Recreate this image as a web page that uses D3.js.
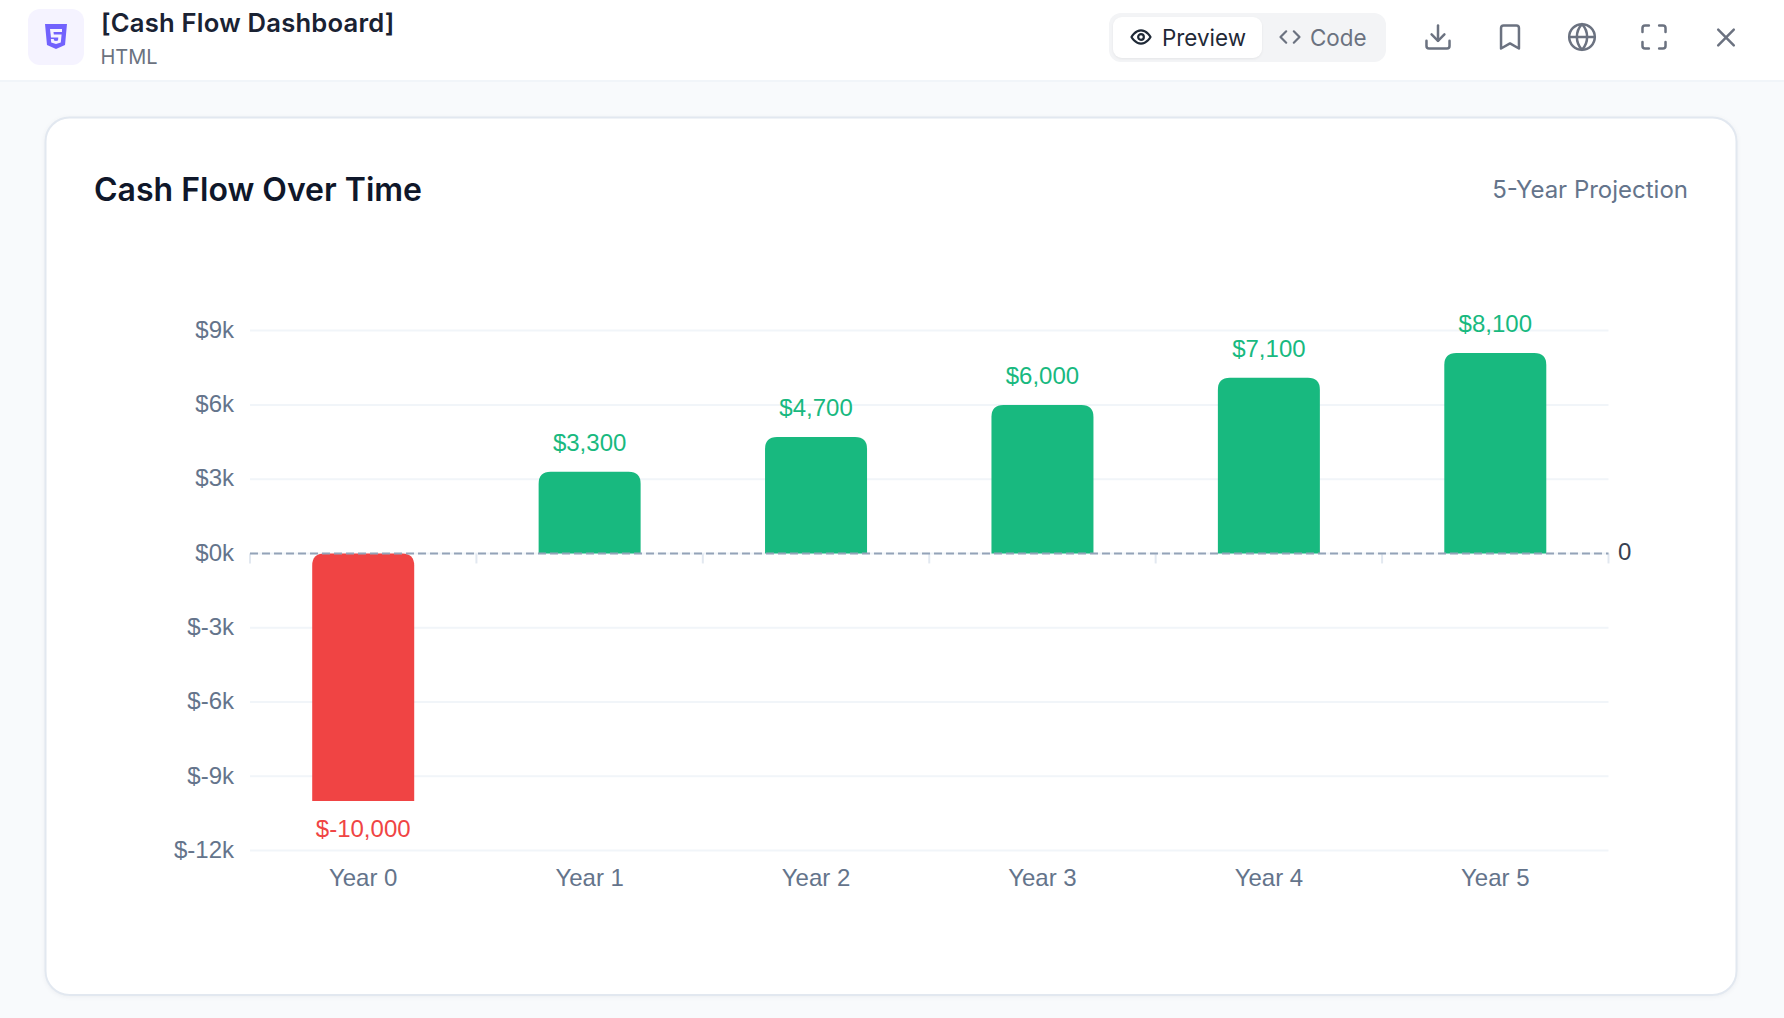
<!DOCTYPE html>
<html>
<head>
<meta charset="utf-8">
<title>Cash Flow Dashboard</title>
<script src="https://cdn.jsdelivr.net/npm/d3@7/dist/d3.min.js"></script>
<style>
  html, body { margin: 0; padding: 0; background: #f8fafc; overflow: hidden; }
  svg { display: block; }
  .ui { font-family: Inter, sans-serif; }
  .chart-text { font-family: "Liberation Sans", Arial, sans-serif; }
  .icon { fill: none; stroke-linecap: round; stroke-linejoin: round; }
</style>
</head>
<body>
<svg id="page" width="1784" height="1018"></svg>
<script>
const categories = ["Year 0", "Year 1", "Year 2", "Year 3", "Year 4", "Year 5"];
const cashFlow = [-10000, 3300, 4700, 6000, 7100, 8100];
const yTicks = [9000, 6000, 3000, 0, -3000, -6000, -9000, -12000];

const svg = d3.select("#page");

// Application header
svg.append("rect").attr("width", 1784).attr("height", 80).attr("fill", "#ffffff");
svg.append("rect").attr("y", 80).attr("width", 1784).attr("height", 2).attr("fill", "#f1f5f9");
svg.append("rect").attr("x", 28).attr("y", 9).attr("width", 56).attr("height", 56)
  .attr("rx", 12).attr("fill", "#f5f3ff");
const badge = svg.append("g").attr("transform", "translate(45,24)");
badge.append("path").attr("d", "M0 0H22L20 21L11 25L2 21Z").attr("fill", "#7262fd");
badge.append("path")
  .attr("d", "M5 5H17V8H8.5L8.8 10.5H16.6L15.8 18.5L11 20L6.2 18.5L5.9 15H8.8L9 16.4L11 17L13 16.4L13.3 13.4H6Z")
  .attr("fill", "#f5f3ff");

svg.append("text").attr("class", "ui").attr("x", 101).attr("y", 32)
  .attr("font-size", 25.6).attr("font-weight", 600).attr("letter-spacing", 0.22).attr("fill", "#1a2233")
  .text("[Cash Flow Dashboard]");
svg.append("text").attr("class", "ui").attr("x", 100.5).attr("y", 64)
  .attr("font-size", 20).attr("fill", "#6b7280").text("HTML");

// Preview / Code switch
svg.append("rect").attr("x", 1109).attr("y", 13).attr("width", 277).attr("height", 49)
  .attr("rx", 12).attr("fill", "#f3f4f6");
svg.append("rect").attr("x", 1113).attr("y", 17).attr("width", 149).attr("height", 41)
  .attr("rx", 9).attr("fill", "#ffffff")
  .style("filter", "drop-shadow(0 1px 1px rgba(0,0,0,0.06))");
svg.append("text").attr("class", "ui").attr("x", 1162).attr("y", 45.5)
  .attr("font-size", 22.4).attr("font-weight", 400).attr("fill", "#1f2937").text("Preview");
svg.append("text").attr("class", "ui").attr("x", 1310).attr("y", 45.5)
  .attr("font-size", 22.4).attr("font-weight", 400).attr("fill", "#6b7280").text("Code");

function icon(cx, cy, scale, color, width, draw) {
  const g = svg.append("g").attr("class", "icon")
    .attr("transform", `translate(${cx - 12 * scale},${cy - 12 * scale}) scale(${scale})`)
    .attr("stroke", color).attr("stroke-width", width / scale);
  draw(g);
}
const strokes = (g, list) => list.forEach(d => g.append("path").attr("d", d));

icon(1141, 37, 0.95, "#1f2937", 2.2, g => {
  strokes(g, ["M2 12s3.6-7 10-7 10 7 10 7-3.6 7-10 7-10-7-10-7Z"]);
  g.append("circle").attr("cx", 12).attr("cy", 12).attr("r", 3);
});
icon(1290, 37, 0.95, "#6b7280", 2.2, g => strokes(g, ["M16 18l6-6-6-6", "M8 6l-6 6 6 6"]));
icon(1438, 37, 1.28, "#6b7280", 2.5, g => strokes(g, ["M21 15v4a2 2 0 0 1-2 2H5a2 2 0 0 1-2-2v-4", "M7 10l5 5 5-5", "M12 15V3"]));
icon(1510, 37, 1.28, "#6b7280", 2.5, g => strokes(g, ["M19 21l-7-4-7 4V5a2 2 0 0 1 2-2h10a2 2 0 0 1 2 2Z"]));
icon(1582, 37, 1.28, "#6b7280", 2.5, g => {
  g.append("circle").attr("cx", 12).attr("cy", 12).attr("r", 10);
  strokes(g, ["M12 2a14.5 14.5 0 0 0 0 20 14.5 14.5 0 0 0 0-20", "M2 12h20"]);
});
icon(1654, 37, 1.28, "#6b7280", 2.5, g => strokes(g, ["M8 3H5a2 2 0 0 0-2 2v3", "M21 8V5a2 2 0 0 0-2-2h-3", "M3 16v3a2 2 0 0 0 2 2h3", "M16 21h3a2 2 0 0 0 2-2v-3"]));
icon(1726, 37.5, 1.3, "#6b7280", 2.5, g => strokes(g, ["M18 6L6 18", "M6 6l12 12"]));

// Card
svg.append("rect").attr("x", 45.5).attr("y", 117.5).attr("width", 1691).attr("height", 877.5)
  .attr("rx", 24).attr("fill", "#ffffff").attr("stroke", "#e2e8f0").attr("stroke-width", 2)
  .style("filter", "drop-shadow(0 1px 2px rgba(15,23,42,0.05))");
svg.append("text").attr("class", "ui").attr("x", 94).attr("y", 201)
  .attr("font-size", 32).attr("font-weight", 600).attr("fill", "#0f172a")
  .text("Cash Flow Over Time");
svg.append("text").attr("class", "ui").attr("x", 1688).attr("y", 198)
  .attr("text-anchor", "end").attr("font-size", 24).attr("fill", "#64748b")
  .text("5-Year Projection");

// Chart scales
const x = d3.scaleBand().domain(categories).range([250, 1608.5]);
const y = d3.scaleLinear().domain([-12000, 9000]).range([850.6, 330.6]);
const barWidth = 102;
const radius = 12;
const positive = "#18b97f";
const negative = "#f04444";
const labelColor = "#64748b";

// Horizontal grid
svg.append("g").selectAll("line").data(yTicks).join("line")
  .attr("x1", x.range()[0]).attr("x2", x.range()[1])
  .attr("y1", d => y(d)).attr("y2", d => y(d))
  .attr("stroke", "#f1f5f9").attr("stroke-width", 2);

// Category separators under the zero line
const edges = x.domain().map(d => x(d)).concat(x.range()[1]);
svg.append("g").selectAll("line").data(edges).join("line")
  .attr("x1", d => d).attr("x2", d => d)
  .attr("y1", y(0)).attr("y2", y(0) + 10)
  .attr("stroke", "#e2e8f0").attr("stroke-width", 2);

// Bars: only the end at the top is rounded, for losses as well as gains
const barPath = v => {
  const left = x(categories[cashFlow.indexOf(v)]) + (x.bandwidth() - barWidth) / 2;
  const right = left + barWidth;
  const top = y(Math.max(v, 0));
  const bottom = y(Math.min(v, 0));
  return `M${left},${bottom}V${top + radius}Q${left},${top} ${left + radius},${top}` +
    `H${right - radius}Q${right},${top} ${right},${top + radius}V${bottom}Z`;
};
svg.append("g").selectAll("path").data(cashFlow).join("path")
  .attr("d", barPath)
  .attr("fill", d => d < 0 ? negative : positive);

// Value labels
svg.append("g").attr("class", "chart-text").selectAll("text").data(cashFlow).join("text")
  .attr("x", (d, i) => x(categories[i]) + x.bandwidth() / 2)
  .attr("y", d => d < 0 ? y(d) + 35.5 : y(d) - 21)
  .attr("text-anchor", "middle").attr("font-size", 24)
  .attr("fill", d => d < 0 ? negative : positive)
  .text(d => "$" + d3.format(",")(d).replace("−", "-"));

// Axes
const yAxis = d3.axisLeft(y).tickValues(yTicks).tickSize(0).tickPadding(17)
  .tickFormat(d => "$" + (d / 1000) + "k");
const gy = svg.append("g").attr("class", "chart-text").attr("transform", "translate(251,-1)").call(yAxis);
gy.select(".domain").remove();
gy.selectAll("text").attr("font-family", "'Liberation Sans', Arial, sans-serif")
  .attr("font-size", 24).attr("fill", labelColor);

const xAxis = d3.axisBottom(x).tickSize(0).tickPadding(0);
const gx = svg.append("g").attr("class", "chart-text").attr("transform", "translate(0,851)").call(xAxis);
gx.select(".domain").remove();
gx.selectAll("text").attr("font-family", "'Liberation Sans', Arial, sans-serif")
  .attr("font-size", 24).attr("fill", labelColor).attr("dy", null).attr("y", 35);

// Zero reference line and its label
svg.append("line").attr("x1", x.range()[0]).attr("x2", x.range()[1])
  .attr("y1", y(0)).attr("y2", y(0))
  .attr("stroke", "#94a3b8").attr("stroke-width", 2).attr("stroke-dasharray", "8 4");
svg.append("text").attr("class", "chart-text").attr("x", 1618).attr("y", y(0) + 7)
  .attr("font-size", 24).attr("fill", "#374151").text("0");
</script>
</body>
</html>
